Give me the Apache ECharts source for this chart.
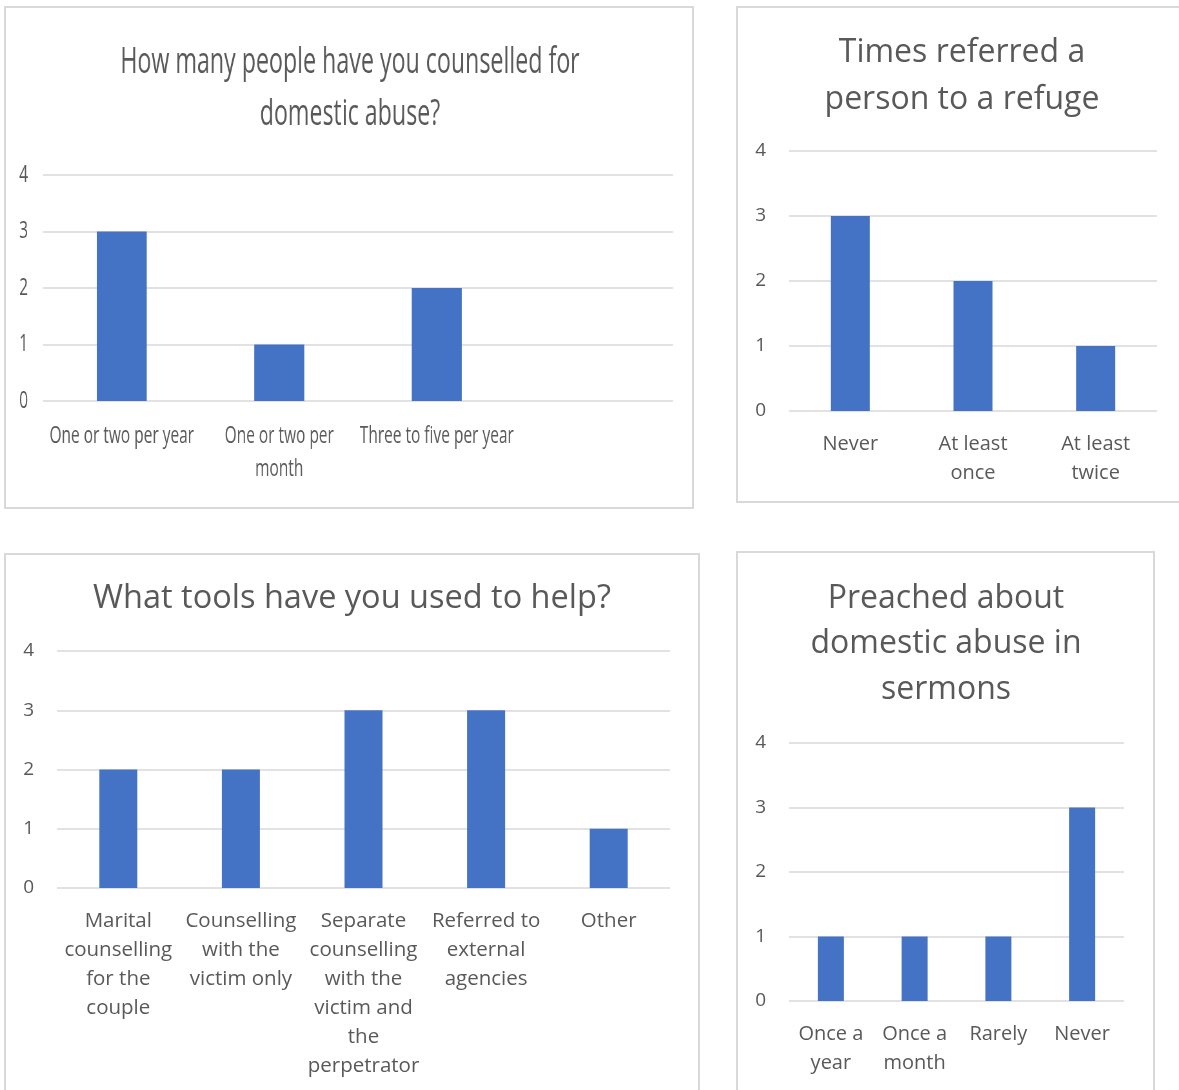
<!DOCTYPE html>
<html>
<head>
<meta charset="utf-8">
<script src="https://cdn.jsdelivr.net/npm/echarts@6/dist/echarts.min.js"></script>
<style>
  html, body { margin: 0; padding: 0; background: #ffffff; }
  #wrap { position: relative; width: 1179px; height: 1090px; overflow: hidden; }
  #chart { position: absolute; left: 0; top: 0; width: 1179px; height: 1090px; }
  /* the first panel uses a horizontally compressed typeface look */
  #narrow { position: absolute; left: 0; top: 0; height: 515px;
            transform-origin: 0 0; }
</style>
</head>
<body>
<div id="wrap">
  <div id="chart"></div>
  <div id="narrow"></div>
</div>
<script>
// Survey answers, one small set per panel
const counselledTitle = 'How many people have you counselled for\ndomestic abuse?';
const counselledCats = ['One or two per year', 'One or two per\nmonth', 'Three to five per year', ''];
const counselledVals = [3, 1, 2, null];

const refugeTitle = 'Times referred a\nperson to a refuge';
const refugeCats = ['Never', 'At least\nonce', 'At least\ntwice'];
const refugeVals = [3, 2, 1];

const toolsTitle = 'What tools have you used to help?';
const toolsCats = [
  'Marital\ncounselling\nfor the\ncouple',
  'Counselling\nwith the\nvictim only',
  'Separate\ncounselling\nwith the\nvictim and\nthe\nperpetrator',
  'Referred to\nexternal\nagencies',
  'Other'
];
const toolsVals = [2, 2, 3, 3, 1];

const sermonTitle = 'Preached about\ndomestic abuse in\nsermons';
const sermonCats = ['Once a\nyear', 'Once a\nmonth', 'Rarely', 'Never'];
const sermonVals = [1, 1, 1, 3];

const yTicks = [0, 1, 2, 3, 4];

const TEXT = '#595959';
const GRID_LINE = '#d9d9d9';
const BAR = '#4472c4';
const SANS = '"Open Sans", "Noto Sans", sans-serif';

// Builds one bar panel (title, grid, axes, series) at the given index
function panelParts(p, i, sx) {
  const k = sx || 1; // horizontal compression of the hosting chart
  return {
    title: {
      text: p.title, left: p.titleX / k, top: p.titleTop, textAlign: 'center', padding: 0,
      textStyle: { fontFamily: SANS, fontSize: p.titleSize, fontWeight: 'normal',
                   color: TEXT, lineHeight: p.titleLH }
    },
    grid: { left: p.grid.left / k, top: p.grid.top, width: p.grid.width / k,
            height: p.grid.height, containLabel: false },
    xAxis: {
      type: 'category', gridIndex: i, data: p.cats,
      axisLine: { show: false }, axisTick: { show: false },
      axisLabel: { interval: 0, color: TEXT, fontFamily: SANS, fontSize: p.xSize,
                   lineHeight: p.xLH, margin: p.xMargin, align: 'center' }
    },
    yAxis: {
      type: 'value', gridIndex: i, min: yTicks[0], max: yTicks[yTicks.length - 1], interval: 1,
      axisLine: { show: false }, axisTick: { show: false },
      axisLabel: { color: TEXT, fontFamily: SANS, fontSize: p.ySize, margin: p.yMargin / k },
      splitLine: { show: true, lineStyle: { color: GRID_LINE, width: 1.5 } }
    },
    series: {
      type: 'bar', xAxisIndex: i, yAxisIndex: i, data: p.vals,
      barWidth: p.barWidth / k, itemStyle: { color: BAR }
    }
  };
}

function assemble(list, extra) {
  const parts = list.map(([p, sx], i) => panelParts(p, i, sx));
  return Object.assign({
    backgroundColor: 'transparent',
    animation: false,
    title: parts.map(o => o.title),
    grid: parts.map(o => o.grid),
    xAxis: parts.map(o => o.xAxis),
    yAxis: parts.map(o => o.yAxis),
    series: parts.map(o => o.series)
  }, extra || {});
}

// Panel layouts (page pixels): plot area, fonts, bar widths
const counselledPanel = {
  title: counselledTitle, cats: counselledCats, vals: counselledVals,
  titleX: 350, titleTop: 37, titleSize: 36, titleLH: 52,
  grid: { left: 43, top: 175, width: 630, height: 226 },
  ySize: 24, yMargin: 15, xSize: 24, xLH: 33, xMargin: 19, barWidth: 50
};
const refugePanel = {
  title: refugeTitle, cats: refugeCats, vals: refugeVals,
  titleX: 962, titleTop: 29, titleSize: 32, titleLH: 47,
  grid: { left: 789, top: 151, width: 368, height: 260 },
  ySize: 19, yMargin: 23, xSize: 20, xLH: 29, xMargin: 19, barWidth: 39
};
const toolsPanel = {
  title: toolsTitle, cats: toolsCats, vals: toolsVals,
  titleX: 352, titleTop: 578, titleSize: 32.5, titleLH: 42,
  grid: { left: 57, top: 651, width: 613, height: 237 },
  ySize: 19, yMargin: 23, xSize: 20.5, xLH: 29, xMargin: 19, barWidth: 38
};
const sermonPanel = {
  title: sermonTitle, cats: sermonCats, vals: sermonVals,
  titleX: 946, titleTop: 576, titleSize: 32, titleLH: 45.5,
  grid: { left: 789, top: 743, width: 335, height: 258 },
  ySize: 19, yMargin: 23, xSize: 20, xLH: 29, xMargin: 19, barWidth: 26
};

const frameStyle = { fill: null, stroke: GRID_LINE, lineWidth: 2 };

// Main chart: three panels plus all four frames
const mainChart = echarts.init(document.getElementById('chart'));
mainChart.setOption(assemble(
  [[refugePanel, 1], [toolsPanel, 1], [sermonPanel, 1]],
  {
    backgroundColor: '#ffffff',
    graphic: [
      { type: 'rect', shape: { x: 5, y: 7, width: 688, height: 501 }, style: frameStyle, silent: true },
      { type: 'rect', shape: { x: 737, y: 7, width: 460, height: 495 }, style: frameStyle, silent: true },
      { type: 'rect', shape: { x: 5, y: 554, width: 694, height: 560 }, style: frameStyle, silent: true },
      { type: 'rect', shape: { x: 737, y: 552, width: 417, height: 560 }, style: frameStyle, silent: true }
    ]
  }
));

// First panel: drawn wide, then compressed horizontally
const SQUEEZE = 0.645;
const narrowEl = document.getElementById('narrow');
narrowEl.style.width = (700 / SQUEEZE) + 'px';
narrowEl.style.transform = 'scaleX(' + SQUEEZE + ')';
const narrowChart = echarts.init(narrowEl);
narrowChart.setOption(assemble([[counselledPanel, SQUEEZE]]));
</script>
</body>
</html>
